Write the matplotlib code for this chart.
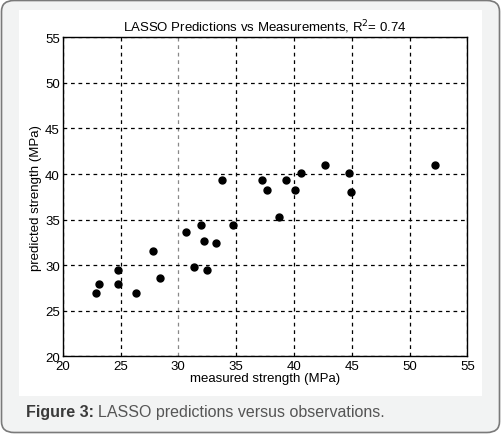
import matplotlib
matplotlib.use('Agg')
import matplotlib.pyplot as plt
from matplotlib.patches import FancyBboxPatch, Rectangle

plt.rcParams['font.family'] = ['Liberation Sans', 'DejaVu Sans']

# measured vs predicted strength (MPa)
measured = [33.8, 37.2, 37.7, 39.3, 40.1, 40.6, 42.7, 44.8, 44.9, 52.2,
            38.7, 30.7, 32.0, 34.7, 32.2, 33.3, 27.8, 31.4, 32.5, 24.8,
            24.8, 23.1, 22.9, 26.3, 28.4]
predicted = [39.3, 39.3, 38.3, 39.3, 38.3, 40.1, 41.0, 40.1, 38.0, 41.0,
             35.3, 33.6, 34.4, 34.4, 32.7, 32.4, 31.6, 29.8, 29.5, 29.5,
             27.9, 27.9, 26.9, 26.9, 28.6]
ticks = [20, 25, 30, 35, 40, 45, 50, 55]

W, H = 501, 435
fig = plt.figure(figsize=(W / 100, H / 100), dpi=100)
fig.patch.set_facecolor('white')

# page frame: grey rounded box with a white panel for the chart
frame = FancyBboxPatch((1.5 / W, 1.5 / H), (W - 3) / W, (H - 3) / H,
                       boxstyle='round,pad=0,rounding_size=0.025',
                       transform=fig.transFigure, facecolor='#f2f3f3',
                       edgecolor='#7a7a7a', linewidth=1.2, zorder=-2)
fig.patches.append(frame)
panel = Rectangle((19 / W, 1 - 397 / H), (482 - 19) / W, (397 - 11) / H,
                  transform=fig.transFigure, facecolor='white',
                  edgecolor='none', zorder=-1)
fig.patches.append(panel)

ax = fig.add_axes([62.7 / W, 1 - 357.3 / H, (467.3 - 62.7) / W,
                   (357.3 - 38.3) / H])
ax.plot(measured, predicted, 'o', color='black', markersize=5)

ax.set_xlim(20, 55)
ax.set_ylim(20, 55)
ax.set_xticks(ticks)
ax.set_yticks(ticks)
ax.tick_params(labelsize=9.5, direction='in', length=0, pad=2)
ax.tick_params(axis='x', pad=3)
ax.grid(True, color='black', linestyle=(0, (3, 3)), linewidth=0.9)
ax.get_xgridlines()[2].set_color('#888888')
for s in ax.spines.values():
    s.set_linewidth(1.0)

ax.set_title('LASSO Predictions vs Measurements, R$^2$= 0.74',
             fontsize=9.5, pad=5)
ax.set_xlabel('measured strength (MPa)', fontsize=9.5, labelpad=0)
ax.set_ylabel('predicted strength (MPa)', fontsize=9.5, labelpad=2)

fig.text(26 / W, 1 - 413 / H, 'Figure 3:', fontsize=11.5, weight='bold',
         color='#3a3a3a', va='center')
fig.text(98 / W, 1 - 413 / H, 'LASSO predictions versus observations.',
         fontsize=11.5, color='#555555', va='center')

fig.savefig('out.png', dpi=100)
